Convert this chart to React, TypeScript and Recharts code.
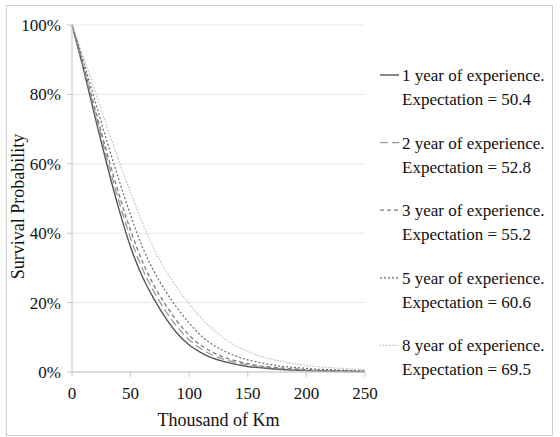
import React from "react";
import { CartesianGrid, Line, LineChart, XAxis, YAxis } from "recharts";

// thousand of km
const km = [
  0, 10, 20, 30, 40, 50, 60, 70, 80, 90, 100, 110, 120, 130, 140, 150, 160, 170, 180, 190, 200, 210,
  220, 230, 240, 250,
];

// survival probability (%)
const year1 = [
  100, 87, 73, 59.5, 47, 36, 27.5, 21, 15.5, 11, 7.8, 5.6, 4, 3, 2.2, 1.6, 1.25, 0.95, 0.7, 0.55, 0.4,
  0.32, 0.25, 0.18, 0.14, 0.1,
];
const year2 = [
  100, 87.6, 74.3, 61.4, 49.3, 38.5, 29.8, 23.1, 17.5, 12.9, 9.3, 6.7, 4.9, 3.6, 2.7, 2.0, 1.5, 1.18,
  0.9, 0.68, 0.54, 0.4, 0.32, 0.25, 0.19, 0.15,
];
const year3 = [
  100, 88.1, 75.4, 63, 51.3, 40.8, 31.9, 24.9, 19.3, 14.5, 10.6, 7.7, 5.7, 4.2, 3.2, 2.4, 1.8, 1.4,
  1.12, 0.86, 0.66, 0.52, 0.39, 0.32, 0.26, 0.19,
];
const year5 = [
  100, 89.2, 77.7, 66.3, 55.4, 45.2, 36.1, 29, 23.2, 18.3, 14.1, 10.5, 7.85, 6, 4.56, 3.5, 2.75, 2.1,
  1.6, 1.32, 1.06, 0.83, 0.66, 0.53, 0.4, 0.34,
];
const year8 = [
  100, 90.6, 80.7, 70.6, 60.9, 51.7, 43.1, 35.4, 29.2, 24.1, 19.6, 15.6, 12.4, 9.6, 7.5, 5.9, 4.6, 3.7,
  2.96, 2.38, 1.9, 1.52, 1.27, 1.05, 0.85, 0.68,
];

const xTicks = [0, 50, 100, 150, 200, 250];
const yTicks = [0, 20, 40, 60, 80, 100];

const series = [
  { key: "y1", years: 1, expectation: "50.4", values: year1, color: "#555555", dash: undefined, width: 1.4 },
  { key: "y2", years: 2, expectation: "52.8", values: year2, color: "#9a9a9a", dash: "8 4", width: 1.3 },
  { key: "y3", years: 3, expectation: "55.2", values: year3, color: "#7a7a7a", dash: "4 3", width: 1.3 },
  { key: "y5", years: 5, expectation: "60.6", values: year5, color: "#6a6a6a", dash: "2 2", width: 1.2 },
  { key: "y8", years: 8, expectation: "69.5", values: year8, color: "#bdbdbd", dash: "1.5 1.5", width: 1.2 },
];

const rows = km.map((x, i) => {
  const row: Record<string, number> = { km: x };
  series.forEach((s) => {
    row[s.key] = s.values[i];
  });
  return row;
});

const font = "'Liberation Serif', 'Times New Roman', serif";

function LegendBox() {
  return (
    <svg
      width={180}
      height={340}
      style={{ position: "absolute", left: 374, top: 50 }}
    >
      {series.map((s, i) => {
        const y = 25 + i * 67.6;
        return (
          <g key={s.key}>
            <line
              x1={6}
              x2={25}
              y1={y}
              y2={y}
              stroke={s.color}
              strokeWidth={s.width}
              strokeDasharray={s.dash}
            />
            <text x={28} y={y} dy="0.35em" fontSize={17} fontFamily={font} fill="#111">
              {s.years} year of experience.
            </text>
            <text x={28} y={y + 24} dy="0.35em" fontSize={17} fontFamily={font} fill="#111">
              Expectation = {s.expectation}
            </text>
          </g>
        );
      })}
    </svg>
  );
}

export default function App() {
  return (
    <div style={{ position: "absolute", left: 0, top: 0, width: 560, height: 437, background: "#fff" }}>
      <div
        style={{
          position: "absolute",
          left: 6,
          top: 5,
          width: 545,
          height: 429,
          border: "1.5px solid #cfcfcf",
        }}
      />
      <div style={{ position: "absolute", left: 0, top: 0 }}>
        <LineChart
          width={560}
          height={437}
          data={rows}
          margin={{ top: 25, right: 195, bottom: 35, left: 8 }}
        >
          <CartesianGrid vertical={false} stroke="#e8e8e8" />
          <XAxis
            dataKey="km"
            type="number"
            domain={[0, 250]}
            ticks={xTicks}
            height={30}
            stroke="#c4c4c4"
            tickSize={5}
            tickMargin={10}
            tick={{ fill: "#111", fontSize: 17, fontFamily: font }}
            label={{
              value: "Thousand of Km",
              position: "bottom",
              offset: 11,
              fill: "#111",
              fontSize: 18,
              fontFamily: font,
            }}
          />
          <YAxis
            type="number"
            domain={[0, 100]}
            ticks={yTicks}
            width={64}
            stroke="#c4c4c4"
            tickSize={5}
            tickMargin={6}
            tickFormatter={(v: number) => `${v}%`}
            tick={{ fill: "#111", fontSize: 17, fontFamily: font }}
            label={{
              value: "Survival Probability",
              angle: -90,
              position: "center",
              dx: -22,
              dy: 8,
              fill: "#111",
              fontSize: 18,
              fontFamily: font,
            }}
          />
          {series.map((s) => (
            <Line
              key={s.key}
              dataKey={s.key}
              type="monotone"
              stroke={s.color}
              strokeWidth={s.width}
              strokeDasharray={s.dash}
              dot={false}
              isAnimationActive={false}
            />
          ))}
        </LineChart>
      </div>
      <LegendBox />
    </div>
  );
}
